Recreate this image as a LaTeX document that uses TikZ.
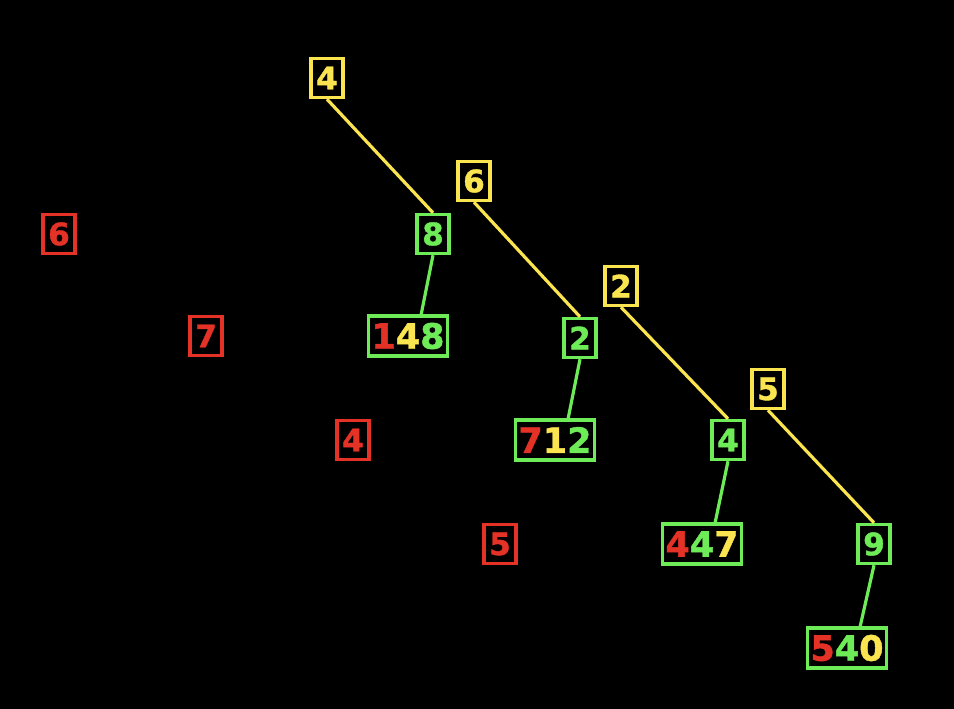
\documentclass[tikz,border=0pt]{standalone}
\usepackage{fontspec}
\newfontfamily\digitfont[FakeBold=1.2]{DejaVu Sans Bold}
\usetikzlibrary{calc}
\definecolor{myred}{RGB}{228,50,38}
\definecolor{myyellow}{RGB}{250,228,80}
\definecolor{mygreen}{RGB}{110,236,88}
\tikzset{
  digit/.style={rectangle, line width=3.4pt, inner sep=1pt,
    minimum width=32pt, minimum height=39pt,
    font=\fontsize{31}{31}\digitfont},
  ybox/.style={digit, draw=myyellow, text=myyellow},
  gbox/.style={digit, draw=mygreen, text=mygreen},
  rbox/.style={digit, draw=myred, text=myred},
  tbox/.style={digit, draw=mygreen, inner xsep=3pt, minimum height=40pt,
    font=\fontsize{35}{35}\digitfont},
  yline/.style={line width=3.2pt, color=myyellow},
  gline/.style={line width=3.2pt, color=mygreen}
}
\newcommand{\trio}[3]{\textcolor{myred}{#1}\textcolor{myyellow}{#2}\textcolor{mygreen}{#3}}

\begin{document}
\begin{tikzpicture}[x=1pt, y=-1pt]
  \fill[black] (0,0) rectangle (954,709);
  \useasboundingbox (0,0) rectangle (954,709);

  % First group
  \node[ybox] (y4) at (327,78) {4};
  \node[gbox] (g8) at (433,234) {8};
  \node[tbox] (t148) at (408,336) {\trio{1}{4}{8}};
  \node[rbox] (r6) at (59,234) {6};
  \draw[yline] (y4.south) -- (g8.north);
  \draw[gline] (g8.south) -- ($(t148.north west)!0.66!(t148.north east)$);

  % Second group
  \node[ybox] (y6) at (474,181) {6};
  \node[gbox] (g2) at (580,338) {2};
  \node[tbox] (t712) at (555,440) {\trio{7}{1}{2}};
  \node[rbox] (r7) at (206,336) {7};
  \draw[yline] (y6.south) -- (g2.north);
  \draw[gline] (g2.south) -- ($(t712.north west)!0.66!(t712.north east)$);

  % Third group
  \node[ybox] (y2) at (621,286) {2};
  \node[gbox] (g4) at (728,440) {4};
  \node[tbox] (t447) at (702,544) {\textcolor{myred}{4}\textcolor{mygreen}{4}\textcolor{myyellow}{7}};
  \node[rbox] (r4) at (353,440) {4};
  \draw[yline] (y2.south) -- (g4.north);
  \draw[gline] (g4.south) -- ($(t447.north west)!0.66!(t447.north east)$);

  % Fourth group
  \node[ybox] (y5) at (768,389) {5};
  \node[gbox] (g9) at (874,544) {9};
  \node[tbox] (t540) at (847,648) {\textcolor{myred}{5}\textcolor{mygreen}{4}\textcolor{myyellow}{0}};
  \node[rbox] (r5) at (500,544) {5};
  \draw[yline] (y5.south) -- (g9.north);
  \draw[gline] (g9.south) -- ($(t540.north west)!0.66!(t540.north east)$);
\end{tikzpicture}
\end{document}
